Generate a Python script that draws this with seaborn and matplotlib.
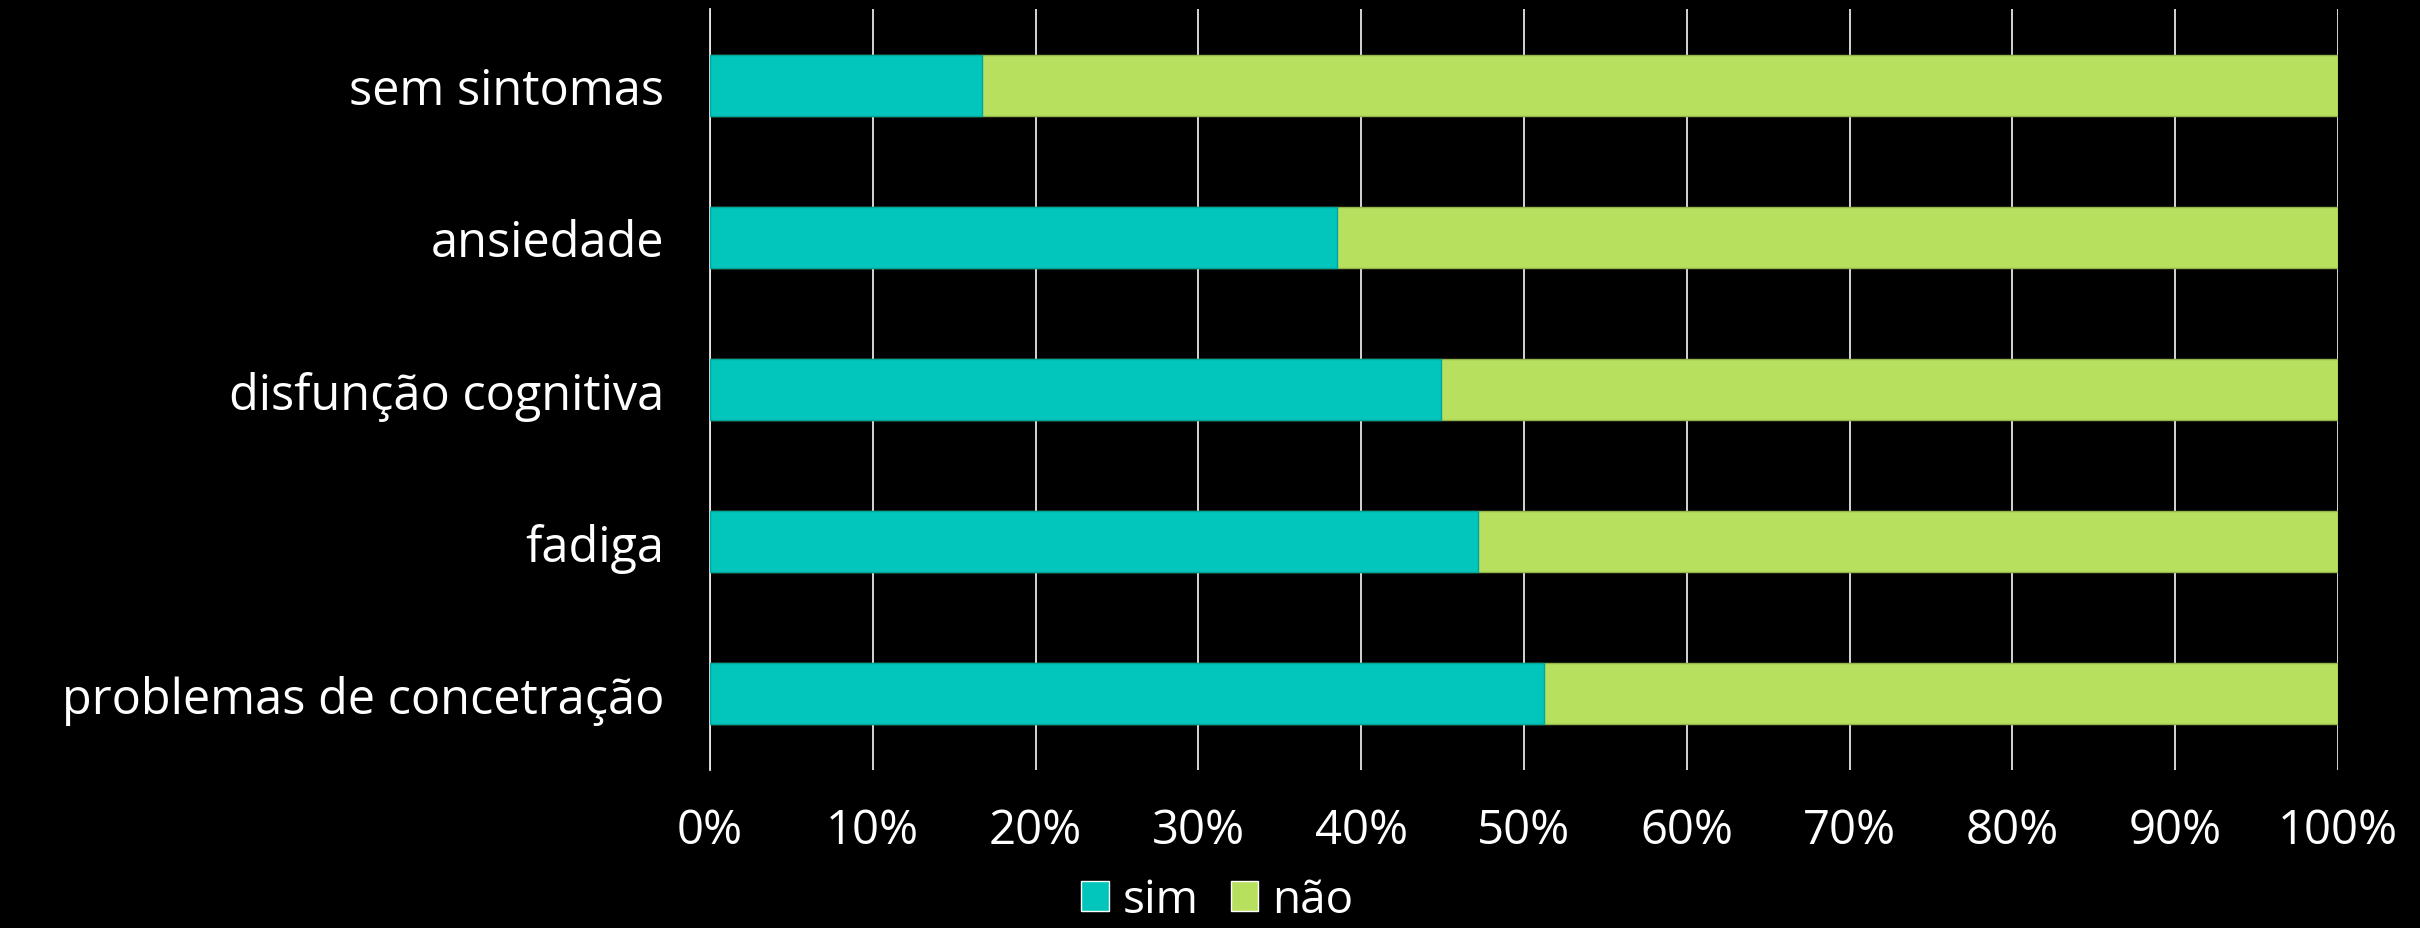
import matplotlib
matplotlib.use("Agg")
import matplotlib.pyplot as plt
import matplotlib.ticker as mticker
import pandas as pd
import seaborn as sns
from matplotlib.patches import Patch

# data (percent of respondents)
sintomas = ["sem sintomas", "ansiedade", "disfunção cognitiva", "fadiga",
            "problemas de concetração"]
sim = [16.7, 38.5, 44.9, 47.2, 51.2]
nao = [83.3, 61.5, 55.1, 52.8, 48.8]

TEAL = "#02C5BC"
GREEN = "#B8E05F"

df = pd.DataFrame({"sintoma": sintomas, "sim": sim, "nao": nao})
df["total"] = df["sim"] + df["nao"]

sns.set_theme(style="white")
plt.rcParams["font.family"] = ["Open Sans", "DejaVu Sans"]

fig = plt.figure(figsize=(24.2, 9.29), dpi=100, facecolor="black")
ax = fig.add_axes([710 / 2420, 1 - 771 / 929, 1628 / 2420, 761 / 929])
ax.set_facecolor("black")

# stacked: full bar in green, then the "sim" share over it
sns.barplot(data=df, y="sintoma", x="total", color=GREEN, width=0.4, saturation=1,
            edgecolor="#93B44A", linewidth=1, orient="h", ax=ax, zorder=2)
sns.barplot(data=df, y="sintoma", x="sim", color=TEAL, width=0.4, saturation=1,
            edgecolor="#01A69E", linewidth=1, orient="h", ax=ax, zorder=3)

ax.set_xlim(0, 100)
ax.xaxis.set_major_locator(mticker.MultipleLocator(10))
ax.xaxis.set_major_formatter(mticker.FuncFormatter(lambda v, _: f"{v:.0f}%"))
ax.grid(axis="x", color="#E6E6E6", linewidth=1.3, zorder=1)
ax.set_axisbelow(True)
for side in ["top", "right", "bottom"]:
    ax.spines[side].set_visible(False)
ax.spines["left"].set_color("#E6E6E6")
ax.spines["left"].set_linewidth(1.3)

ax.tick_params(axis="x", length=0, pad=26, labelsize=34, labelcolor="white")
ax.tick_params(axis="y", length=0, pad=33, labelsize=35, labelcolor="white")
ax.set_xlabel("")
ax.set_ylabel("")

handles = [Patch(facecolor=TEAL, label="sim"), Patch(facecolor=GREEN, label="não")]
fig.legend(handles=handles, loc="center", bbox_to_anchor=(0.503, 0.03),
           ncol=2, frameon=False, labelcolor="white",
           handlelength=0.6, handleheight=0.6, handletextpad=0.3,
           columnspacing=0.7, prop={"size": 33})

fig.savefig("out.png", dpi=100, facecolor="black")
